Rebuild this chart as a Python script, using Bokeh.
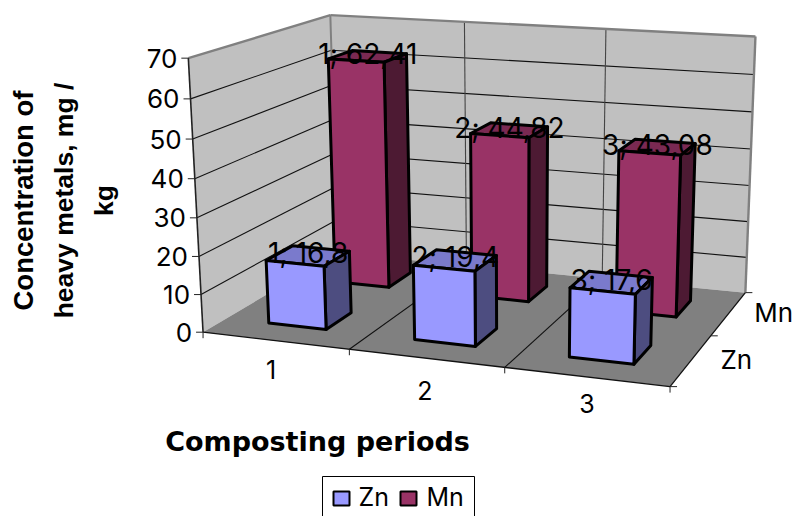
import numpy as np
from bokeh.plotting import figure
from bokeh.embed import file_html
from bokeh.resources import INLINE
from bokeh.core.properties import value

periods = ["1", "2", "3"]
series = ["Zn", "Mn"]
zn_values = [16.8, 19.4, 17.6]
mn_values = [62.41, 44.82, 43.08]
y_ticks = [0, 10, 20, 30, 40, 50, 60, 70]
zn_labels = ["1; 16,8", "2; 19,4", "3; 17,6"]
mn_labels = ["1; 62,41", "2; 44,82", "3; 43,08"]
y_title_lines = ["Concentration of", "heavy metals, mg /", "kg"]
x_title = "Composting periods"

# camera calibration: (period axis, series axis, value) -> page pixel
calib = [
    ((0, 0, 0), (202, 332)), ((1, 0, 0), (350, 350)), ((2, 0, 0), (504, 367)), ((3, 0, 0), (669, 385)),
    ((0, 2, 0), (337, 251)), ((3, 2, 0), (745, 293)),
    ((0, 0, 70), (188, 57)), ((0, 2, 70), (330, 15)), ((1, 2, 70), (463, 22)),
    ((2, 2, 70), (606, 29)), ((3, 2, 70), (755, 35)),
]
A, b = [], []
for (X, Y, Z), (px, py) in calib:
    A.append([X, Y, Z, 1, 0, 0, 0, 0, -px * X, -px * Y, -px * Z]); b.append(px)
    A.append([0, 0, 0, 0, X, Y, Z, 1, -py * X, -py * Y, -py * Z]); b.append(py)
m = np.linalg.lstsq(np.array(A, float), np.array(b, float), rcond=None)[0]
M = np.append(m, 1.0).reshape(3, 4)

def P(u, v, w):
    r = M @ np.array([u, v, w, 1.0])
    return float(r[0] / r[2]), float(r[1] / r[2])

def poly(*pts):
    q = [P(*c) for c in pts]
    return [a for a, _ in q], [c for _, c in q]

BW = 0.2    # half bar extent along the period axis
BD = 0.19   # half bar extent along the series axis
GRAY, FLOOR = "#C0C0C0", "#808080"
INK = "#000000"
FONT = "Inter"

p = figure(width=795, height=516, x_range=(0, 795), y_range=(516, 0),
           output_backend="svg", toolbar_location=None, min_border=0,
           outline_line_color=None, background_fill_color="white")
p.axis.visible = False
p.grid.visible = False

def face(pts, fill, lc=INK, lw=3.0):
    xs, ys = poly(*pts)
    p.patch(xs, ys, fill_color=fill, line_color=lc, line_width=lw, line_join="round")

def seg(a, b, color=INK, lw=1.0):
    xs, ys = poly(a, b)
    p.line(xs, ys, line_color=color, line_width=lw)

# walls
face([(0, 0, 0), (0, 2, 0), (0, 2, 70), (0, 0, 70)], GRAY, None, 0)
face([(0, 2, 0), (3, 2, 0), (3, 2, 70), (0, 2, 70)], GRAY, None, 0)
for t in y_ticks[1:-1]:
    seg((0, 0, t), (0, 2, t), "#111111", 1.1)
    seg((0, 2, t), (3, 2, t), "#111111", 1.1)
for u in [1, 2]:
    seg((u, 2, 0), (u, 2, 70), "#444444", 1.1)
seg((0, 2, 0), (0, 2, 70), FLOOR, 2)
seg((0, 0, 70), (0, 2, 70), FLOOR, 2.4)
seg((0, 2, 70), (3, 2, 70), FLOOR, 2.4)
seg((3, 2, 0), (3, 2, 70), FLOOR, 2.4)
seg((0, 0, 0), (0, 0, 70), "#222222", 1.6)

# floor
face([(0, 0, 0), (3, 0, 0), (3, 2, 0), (0, 2, 0)], FLOOR, None, 0)
for u in [1, 2]:
    seg((u, 0, 0), (u, 2, 0), "#111111", 1.1)
seg((0, 0, 0), (3, 0, 0), "#111111", 1.3)
seg((3, 0, 0), (3, 2, 0), "#111111", 1.3)

# ticks
for t in y_ticks:
    x0, y0 = P(0, 0, t)
    p.line([x0 - 7, x0], [y0, y0], line_color="#222222", line_width=1)
for u in range(4):
    x0, y0 = P(u, 0, 0)
    p.line([x0, x0], [y0, y0 + 6], line_color="#222222", line_width=1)
for v in range(3):
    x0, y0 = P(3, v, 0)
    p.line([x0, x0 + 7], [y0, y0], line_color="#222222", line_width=1)

def bar(i, s, val, front, side, top):
    u0, u1 = i + 0.5 - BW, i + 0.5 + BW
    v0, v1 = s + 0.5 - BD, s + 0.5 + BD
    face([(u0, v0, val), (u1, v0, val), (u1, v1, val), (u0, v1, val)], top)
    face([(u1, v0, 0), (u1, v1, 0), (u1, v1, val), (u1, v0, val)], side)
    face([(u0, v0, 0), (u1, v0, 0), (u1, v0, val), (u0, v0, val)], front)

for i in range(3):
    bar(i, 1, mn_values[i], "#993366", "#4D1A33", "#7A2952")
for i in range(3):
    bar(i, 0, zn_values[i], "#9999FF", "#4D4D80", "#7A7ACC")

def label(x, y, s, size=24, align="center", style="normal", angle=0, font=FONT):
    p.text([x], [y], text=[s], text_font=value(font), text_font_size=f"{size}px",
           text_align=align, text_baseline="middle", text_color="#000000",
           text_font_style=style, angle=angle)

for i in range(3):
    x, y = P(i + 0.5, 1.5, mn_values[i])
    label(x, y - 2, mn_labels[i], 28)
    x, y = P(i + 0.5, 0.5, zn_values[i])
    label(x, y - 3, zn_labels[i], 28)

for t in y_ticks:
    x0, y0 = P(0, 0, t)
    label(x0 - 11, y0, str(t), 26, "right")
period_dx = [-4, -1, 1]
period_dy = [29, 32, 27]
for i, s in enumerate(periods):
    x0, y0 = P(i + 0.5, 0, 0)
    label(x0 + period_dx[i], y0 + period_dy[i], s, 25)
for j, s in enumerate(series):
    x0, y0 = P(3, j + 0.5, 0)
    label(x0 + 45, y0 - 1, s, 26)

label(317, 441, x_title, 27, style="bold", font="DejaVu Sans")
for k, line in enumerate(y_title_lines):
    label(23 + 40 * k, 200, line, 27.5 if k == 0 else 26.5, style="bold", angle=np.pi / 2, font="Liberation Sans")

# legend
p.line([322, 322, 474, 474], [516, 476, 476, 516], line_color="#000000", line_width=1)
sw = p.rect([341, 408], [498, 498], width=16, height=14, fill_color=["#9999FF", "#993366"],
            line_color="#000000", line_width=2)
label(358, 496, series[0], 25, "left")
label(426, 496, series[1], 25, "left")

open("out.html", "w").write(file_html(p, INLINE))
